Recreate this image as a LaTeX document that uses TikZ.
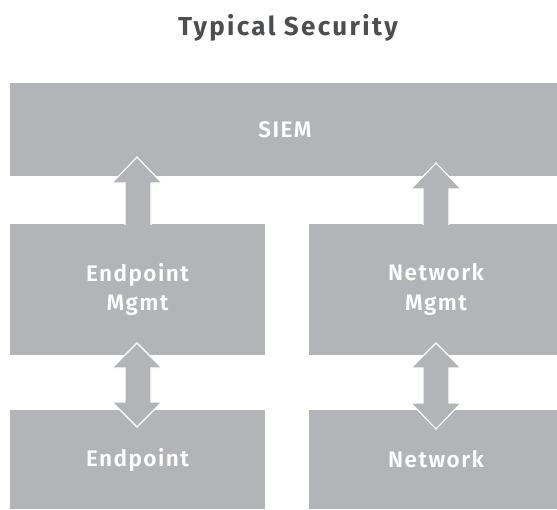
\documentclass[tikz,border=0pt]{standalone}
\usepackage{fontspec}
\usetikzlibrary{calc}
\setmainfont{Fira Sans}[BoldFont={Fira Sans SemiBold}]
\newfontfamily\medfont{Fira Sans SemiBold}[LetterSpace=6.5]
\newfontfamily\titlefont{Fira Sans Bold}[LetterSpace=9]
\definecolor{boxgray}{HTML}{B3B4B7}
\definecolor{titlegray}{HTML}{4D4E51}
\tikzset{
  blk/.style={fill=boxgray, draw=none, inner sep=0pt},
  blktext/.style={text=white, font=\medfont\fontsize{22.5}{29.5}\selectfont, align=center, inner sep=0pt},
  arrowfill/.style={fill=boxgray},
  arrowline/.style={draw=white, line width=1.1pt, line join=miter}
}
\begin{document}
\begin{tikzpicture}[x=1pt,y=-1pt]
\useasboundingbox (0,0) rectangle (557,509);
\node[font=\titlefont\fontsize{26}{30}\selectfont, text=titlegray, anchor=base] (title) at (288,35) {Typical Security};
\node[blk, minimum width=547pt, minimum height=93pt] (siem) at (283.5,129.5) {};
\node[blk, minimum width=255pt, minimum height=131pt] (em) at (137.5,289.5) {};
\node[blk, minimum width=248pt, minimum height=131pt] (nm) at (433,289.5) {};
\node[blk, minimum width=255pt, minimum height=99pt] (ep) at (137.5,459.5) {};
\node[blk, minimum width=248pt, minimum height=99pt] (nw) at (433,459.5) {};
\node[blktext] (siemt) at ($(siem.center)+(1.5,0)$) {SIEM};
\node[blktext] (emt) at (em.center) {Endpoint\\Mgmt};
\node[blktext] (nmt) at ($(nm.center)+(3,0)$) {Network\\Mgmt};
\node[blktext] (ept) at (ep.center) {Endpoint};
\node[blktext] (nwt) at ($(nw.center)+(3,0)$) {Network};
% up arrows: Endpoint Mgmt -> SIEM
\fill[arrowfill] (125,232) -- (125,183) -- (112,183) -- (137,157) -- (162,183) -- (151,183) -- (151,232) -- cycle;
\draw[arrowline] (125,225) -- (125,183) -- (112,183) -- (137,157) -- (162,183) -- (151,183) -- (151,225);
% Network Mgmt -> SIEM
\fill[arrowfill] (423,232) -- (423,189) -- (411,189) -- (436,163) -- (461,189) -- (449,189) -- (449,232) -- cycle;
\draw[arrowline] (423,225) -- (423,189) -- (411,189) -- (436,163) -- (461,189) -- (449,189) -- (449,225);
% double arrows
\filldraw[arrowfill, arrowline] (137,343) -- (162,368) -- (151,368) -- (151,402) -- (162,402) -- (137,427) -- (112,402) -- (125,402) -- (125,368) -- (112,368) -- cycle;
\filldraw[arrowfill, arrowline] (436,343) -- (461,368) -- (449,368) -- (449,403) -- (461,403) -- (436,429) -- (411,403) -- (423,403) -- (423,368) -- (411,368) -- cycle;
\end{tikzpicture}
\end{document}
